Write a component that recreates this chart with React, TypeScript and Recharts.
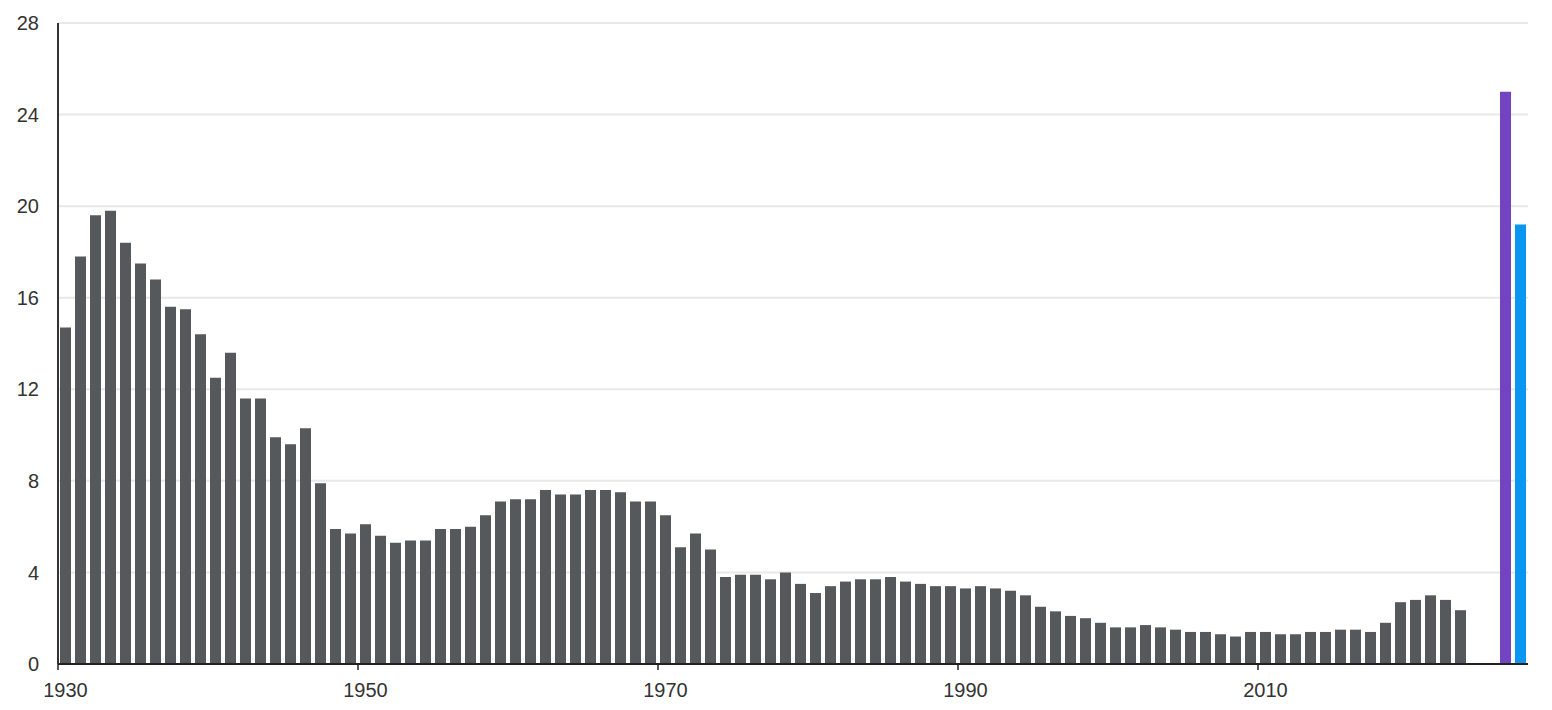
import { Bar, BarChart, CartesianGrid, XAxis, YAxis } from "recharts"

const startYear = 1930
const lastYear = 2027

// yearly values, 1930 to 2023
const historical = [
  14.7, 17.8, 19.6, 19.8, 18.4, 17.5, 16.8, 15.6, 15.5, 14.4,
  12.5, 13.6, 11.6, 11.6, 9.9, 9.6, 10.3, 7.9, 5.9, 5.7,
  6.1, 5.6, 5.3, 5.4, 5.4, 5.9, 5.9, 6.0, 6.5, 7.1,
  7.2, 7.2, 7.6, 7.4, 7.4, 7.6, 7.6, 7.5, 7.1, 7.1,
  6.5, 5.1, 5.7, 5.0, 3.8, 3.9, 3.9, 3.7, 4.0, 3.5,
  3.1, 3.4, 3.6, 3.7, 3.7, 3.8, 3.6, 3.5, 3.4, 3.4,
  3.3, 3.4, 3.3, 3.2, 3.0, 2.5, 2.3, 2.1, 2.0, 1.8,
  1.6, 1.6, 1.7, 1.6, 1.5, 1.4, 1.4, 1.3, 1.2, 1.4,
  1.4, 1.3, 1.3, 1.4, 1.4, 1.5, 1.5, 1.4, 1.8, 2.7,
  2.8, 3.0, 2.8, 2.35,
]

const purpleYear = 2026
const purpleValue = 25.0
const blueYear = 2027
const blueValue = 19.2

const xTicks = [1930, 1950, 1970, 1990, 2010]
const yTicks = [0, 4, 8, 12, 16, 20, 24, 28]

const data = Array.from({ length: lastYear - startYear + 1 }, (_, i) => {
  const year = startYear + i
  return {
    year,
    hist: i < historical.length ? historical[i] : null,
    purple: year === purpleYear ? purpleValue : null,
    blue: year === blueYear ? blueValue : null,
  }
})

const W = 1552
const H = 710
const LEFT = 58
const RIGHT = 24
const halfBand = (W - LEFT - RIGHT) / data.length / 2
const font = "'Liberation Sans', Arial, sans-serif"

function YearTick(props: any) {
  const { x, y, payload } = props
  return (
    <g>
      <line x1={x - halfBand} x2={x - halfBand} y1={y - 6} y2={y} stroke="#222" strokeWidth={1.5} />
      <text x={x} y={y + 27} textAnchor="middle" fill="#333" fontSize={20} fontFamily={font}>
        {payload.value}
      </text>
    </g>
  )
}

export default function App() {
  return (
    <div style={{ width: W, height: H }}>
      <style>{"body{margin:0}"}</style>
      <BarChart width={W} height={H} data={data} margin={{ top: 23, right: RIGHT, left: 0, bottom: 0 }} barCategoryGap={0}>
        <CartesianGrid vertical={false} stroke="#e8e8e8" strokeWidth={2} />
        <XAxis
          dataKey="year"
          ticks={xTicks}
          interval={0}
          height={46}
          tickSize={6}
          tickMargin={0}
          tickLine={false}
          axisLine={{ stroke: "#222", strokeWidth: 2 }}
          tick={<YearTick />}
        />
        <YAxis
          width={LEFT}
          domain={[0, 28]}
          ticks={yTicks}
          interval={0}
          tickLine={false}
          tickSize={0}
          tickMargin={19}
          axisLine={{ stroke: "#333", strokeWidth: 2 }}
          tick={{ fill: "#333", fontSize: 20, fontFamily: font }}
        />
        <Bar dataKey="hist" stackId="a" fill="#56595c" barSize={11} isAnimationActive={false} />
        <Bar dataKey="purple" stackId="a" fill="#7443c2" barSize={11} isAnimationActive={false} />
        <Bar dataKey="blue" stackId="a" fill="#0896f0" barSize={11} isAnimationActive={false} />
      </BarChart>
    </div>
  )
}
